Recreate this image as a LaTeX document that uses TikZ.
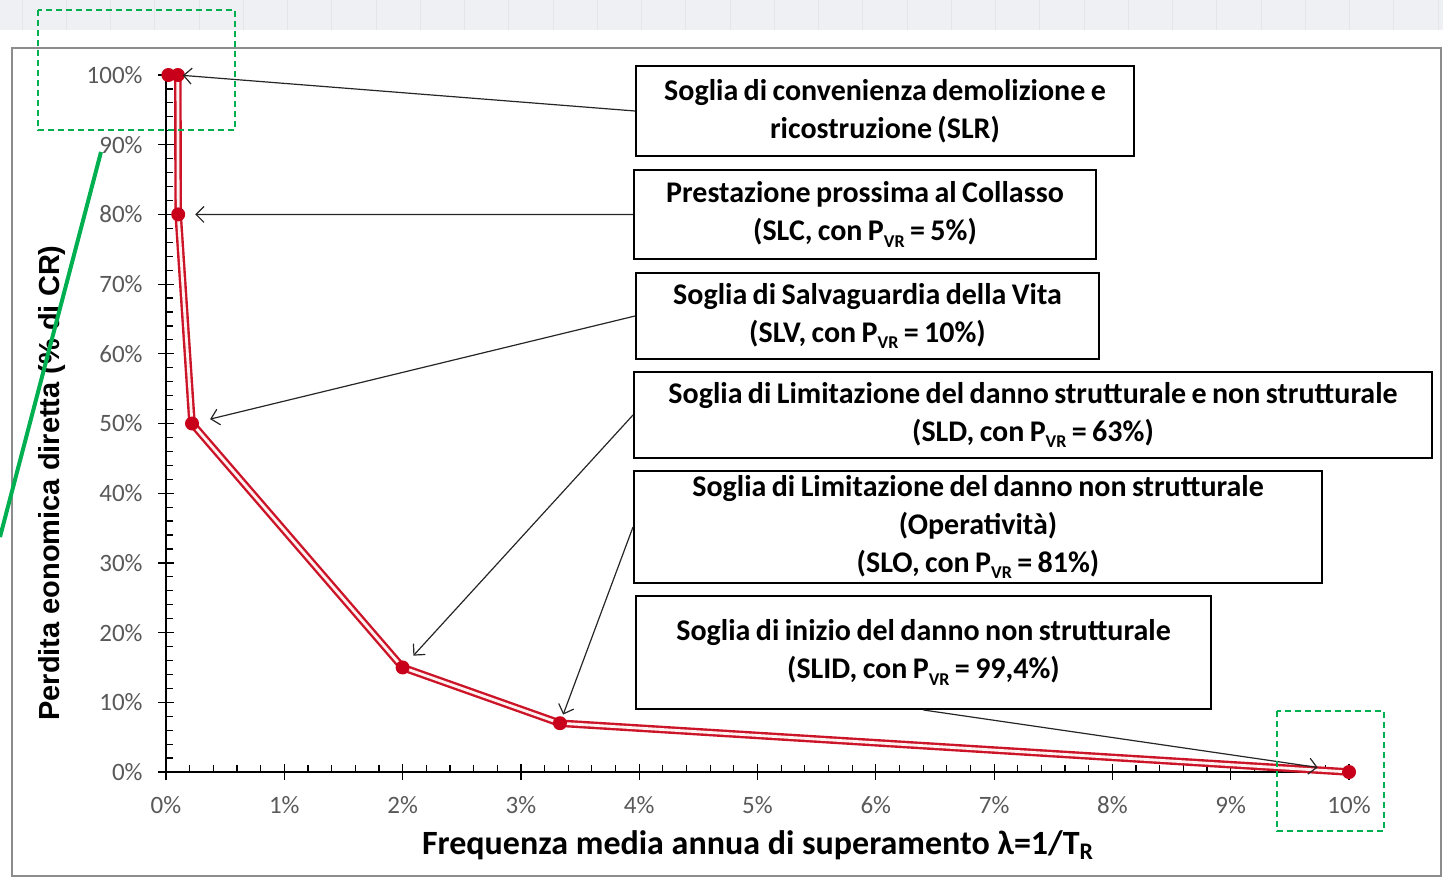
\documentclass[tikz,border=0pt]{standalone}
\usepackage{fontspec}
\setmainfont{Carlito}
\newfontfamily\arialfont{Liberation Sans}
\usetikzlibrary{arrows.meta}

\definecolor{curvered}{RGB}{204,20,40}
\definecolor{dotred}{RGB}{200,0,25}
\definecolor{markgreen}{RGB}{0,176,80}
\definecolor{ticktext}{RGB}{89,89,89}
\definecolor{bandgray}{RGB}{238,240,244}

\newcommand{\boxfont}{\fontsize{15}{19}\selectfont\bfseries\spaceskip=0.18em\relax}
\newcommand{\pvr}{P\raisebox{-0.45ex}{\fontsize{9}{9}\selectfont VR}}

\tikzset{
  sogliabox/.style={draw, line width=1pt, align=center, inner sep=0pt, font=\boxfont},
  pointer/.style={draw=black!85, line width=0.6pt, -{Straight Barb[length=4pt,width=8pt]}},
  greenbox/.style={draw=markgreen, line width=1pt, dash pattern=on 3pt off 2pt},
  ticklabel/.style={text=ticktext, font=\fontsize{12.5}{14}\selectfont, inner sep=0pt},
  curve/.style={draw=curvered, line width=1.2pt, double=red!6, double distance=1.4pt, line join=round},
}

\begin{document}
\begin{tikzpicture}[x=0.5pt, y=-0.5pt]
  \useasboundingbox (0,0) rectangle (1443,883);

  % spreadsheet band on top
  \fill[bandgray] (0,0) rectangle (1443,30);
  \foreach \i in {0,...,32} {
    \draw[black!10] (22+44.25*\i,0) -- (22+44.25*\i,30);
  }

  % chart frame
  \draw[black!45, line width=0.8pt] (12,48) rectangle (1441,876);

  \begin{scope}[shift={(166,772)}, x=59.15pt, y=3.485pt]
    % axes
    \draw[line width=0.8pt] (0,0) -- (10,0);
    \draw[line width=0.8pt] (0,0) -- (0,100);

    \foreach \x in {0.2,0.4,...,9.9} {
      \draw[line width=0.6pt] (\x,0) -- ++(0pt,3.5pt);
    }
    \foreach \x in {0,...,10} {
      \draw[line width=0.6pt] (\x,0) ++(0pt,-4pt) -- ++(0pt,8pt);
      \node[ticklabel] (xl\x) at ([yshift=-16.5pt]\x,0) {\x\%};
    }
    \foreach \y in {2,4,...,98} {
      \draw[line width=0.6pt] (0,\y) -- ++(3.5pt,0pt);
    }
    \foreach \y in {0,10,...,100} {
      \draw[line width=0.6pt] (0,\y) ++(-4pt,0pt) -- ++(8pt,0pt);
      \node[ticklabel, anchor=east] (yl\y) at ([xshift=-11.5pt]0,\y) {\y\%};
    }

    % thresholds
    \coordinate (pSLRa) at (0.02,100);
    \coordinate (pSLR) at (0.1,100);
    \coordinate (pSLC) at (0.103,80);
    \coordinate (pSLV) at (0.22,50);
    \coordinate (pSLD) at (2,15);
    \coordinate (pSLO) at (3.33,7);
    \coordinate (pSLID) at (10,0);
  \end{scope}

  \draw[curve] (pSLRa) -- (pSLR) -- (pSLC) -- (pSLV) -- (pSLD) -- (pSLO) -- (pSLID);
  \foreach \p in {pSLRa,pSLR,pSLC,pSLV,pSLD,pSLO,pSLID} {
    \fill[dotred] (\p) circle (3.5pt);
  }

  % boxes
  \node[sogliabox, minimum width=249pt, minimum height=45pt] (bSLR) at (885,111)
    {Soglia di convenienza demolizione e\\ricostruzione (SLR)};
  \node[sogliabox, minimum width=231pt, minimum height=44.5pt] (bSLC) at (865,214.5)
    {Prestazione prossima al Collasso\\(SLC, con \pvr{} = 5\%)};
  \node[sogliabox, minimum width=231.5pt, minimum height=43pt] (bSLV) at (867.5,316)
    {Soglia di Salvaguardia della Vita\\(SLV, con \pvr{} = 10\%)};
  \node[sogliabox, minimum width=399pt, minimum height=43pt] (bSLD) at (1033,415)
    {Soglia di Limitazione del danno strutturale e non strutturale\\(SLD, con \pvr{} = 63\%)};
  \node[sogliabox, minimum width=344pt, minimum height=56pt] (bSLO) at (978,527)
    {Soglia di Limitazione del danno non strutturale\\(Operativit\`a)\\(SLO, con \pvr{} = 81\%)};
  \node[sogliabox, minimum width=287.5pt, minimum height=56.5pt] (bSLID) at (923.5,652.5)
    {Soglia di inizio del danno non strutturale\\(SLID, con \pvr{} = 99,4\%)};

  % arrows to the curve
  \draw[pointer, shorten >=2.5pt] (bSLR.west) -- (pSLR);
  \draw[pointer, shorten >=8.5pt] (bSLC.west) -- (pSLC);
  \draw[pointer, shorten >=9.3pt] (bSLV.west) -- (pSLV);
  \draw[pointer, shorten >=8pt] (bSLD.west) -- (pSLD);
  \draw[pointer, shorten >=4.6pt] (bSLO.west) -- (pSLO);
  \draw[pointer, shorten >=15.8pt] (bSLID.south) -- (pSLID);

  % axis titles
  \node[font=\arialfont\bfseries\fontsize{14.5}{17}\selectfont, rotate=90] (ylab) at (52,483)
    {Perdita eonomica diretta (\% di CR)};
  \node[font=\fontsize{17}{19}\selectfont\bfseries] (xlab) at (758,845)
    {Frequenza media annua di superamento λ=1/T\textsubscript{R}};

  % green marks
  \draw[greenbox] (38,10) rectangle (235,130);
  \draw[greenbox] (1277,711) rectangle (1384,831);
  \coordinate (gStart) at (101,152);
  \coordinate (gEnd) at (0,537);
  \draw[markgreen, line width=2pt] (gStart) -- (gEnd);
\end{tikzpicture}
\end{document}
